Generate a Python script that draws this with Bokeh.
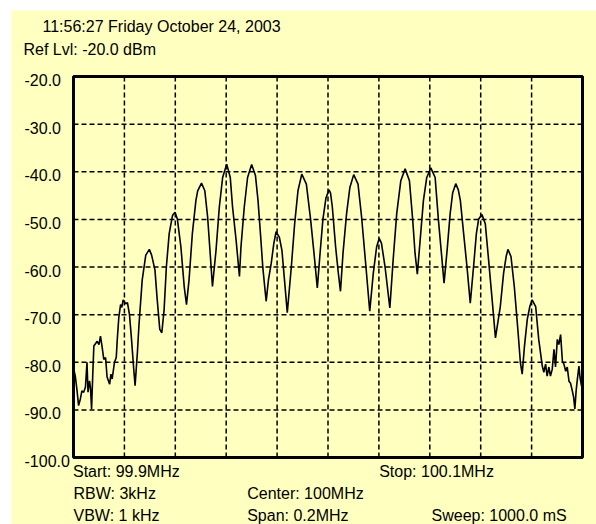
from bokeh.plotting import figure
from bokeh.models import Range1d
from bokeh.embed import file_html
from bokeh.resources import INLINE
from bokeh.core.properties import value

# ---------------- data ----------------
CENTER_MHZ = 100.0
START_MHZ = 99.9
STOP_MHZ = 100.1
REF_LEVEL = -20.0
BOTTOM_LEVEL = -100.0

y_ticks = [-20, -30, -40, -50, -60, -70, -80, -90, -100]
y_tick_labels = ["-20.0", "-30.0", "-40.0", "-50.0", "-60.0", "-70.0", "-80.0", "-90.0", "-100.0"]
x_grid_mhz = [99.92, 99.94, 99.96, 99.98, 100.0, 100.02, 100.04, 100.06, 100.08]

# trace: frequency offset from centre (kHz) and level (dBm)
offset_khz = [
    -100.0, -99.7, -99.3, -98.6, -98.0, -97.3, -96.7, -96.0, -95.3, -94.7,
    -94.3, -93.7, -93.3, -92.9, -92.4, -92.0, -90.7, -90.0, -89.4, -88.8,
    -88.1, -87.4, -86.8, -85.8, -85.3, -84.8, -83.9, -83.2, -82.8, -82.2,
    -81.5, -81.0, -80.5, -79.5, -78.8, -78.0, -77.2, -76.4, -75.8,
    -74.9, -74.3, -73.0, -71.6, -70.2, -69.3, -68.0, -67.1, -66.1, -65.3,
    -64.4, -63.5, -62.4, -61.1, -60.1, -59.2, -57.8, -56.5, -55.6,
    -54.6, -53.3, -51.9, -51.2, -49.7, -48.4, -47.3, -46.3, -45.4,
    -44.0, -42.7, -41.4, -39.8, -38.4, -37.5, -36.1, -34.8,
    -34.2, -32.9, -31.6, -30.0, -28.5, -27.5, -26.5, -25.6, -24.3,
    -23.4, -22.3, -21.3, -20.4, -19.1, -18.1, -17.1, -16.0,
    -14.4, -13.1, -11.8, -10.3, -8.5, -6.8, -5.5, -4.2,
    -3.1, -2.0, -0.8, 0.4, 1.0, 1.7, 3.0, 4.0, 4.9,
    5.9, 7.3, 8.6, 10.1, 11.8, 13.2, 14.9, 16.4,
    17.8, 19.1, 20.1, 21.0, 22.4, 24.3,
    25.6, 27.0, 28.6, 30.3, 32.0, 33.3, 34.2, 35.1,
    36.2, 37.5, 38.8, 40.4, 42.1, 43.4, 44.7, 45.6,
    46.8, 48.0, 49.0, 50.2, 51.2, 52.0, 53.3, 54.6, 55.9,
    57.2, 58.3, 59.2, 60.5, 61.8, 63.1, 64.5, 65.8,
    67.7, 69.0, 70.0, 70.7, 71.9, 73.2, 74.7, 75.6, 76.3,
    77.2, 78.3, 79.3, 80.2, 81.6, 82.8, 84.2, 84.8,
    85.5, 86.1, 86.8, 87.4, 88.1, 88.8, 89.4, 90.1, 90.7, 91.4,
    92.1, 92.7, 93.4, 94.0, 94.7, 95.3, 96.0, 96.5, 97.0, 97.5,
    98.0, 98.6, 99.0, 99.6, 100.0,
]
level_db = [
    -84.2, -81.9, -82.9, -86.0, -89.1, -87.7, -86.0, -86.3, -85.2, -80.0,
    -86.3, -83.9, -85.6, -89.8, -82.1, -76.6, -75.6, -76.3, -74.5, -76.6,
    -79.4, -79.0, -83.1, -84.6, -82.5, -83.5, -80.0, -79.0, -75.2, -70.6,
    -67.9, -68.5, -66.9, -67.7, -67.5, -70.0, -75.2, -81.0, -84.9,
    -78.0, -72.4, -62.7, -57.5, -56.3, -57.5, -60.6, -66.9, -73.1, -73.8,
    -69.0, -59.9, -53.0, -49.2, -48.5, -49.9, -55.8, -64.1, -67.9,
    -62.7, -53.0, -46.0, -44.0, -42.4, -44.0, -49.5, -57.1, -64.1,
    -56.5, -47.4, -41.2, -38.4, -41.2, -47.4, -54.4, -62.0,
    -55.8, -47.4, -41.2, -38.5, -40.8, -46.0, -53.3, -60.2, -67.2,
    -62.7, -59.2, -55.1, -52.6, -53.8, -56.5, -62.7, -69.6,
    -59.9, -50.9, -44.0, -40.5, -42.6, -50.2, -57.1, -64.4,
    -57.0, -50.0, -45.5, -43.8, -44.5, -47.4, -55.8, -61.0, -65.1,
    -57.1, -48.8, -43.3, -40.6, -42.6, -49.5, -59.9, -69.3,
    -61.3, -55.8, -54.0, -55.0, -59.9, -68.6,
    -58.5, -48.8, -41.9, -39.4, -41.9, -50.2, -57.1, -61.5,
    -54.4, -46.0, -41.2, -39.2, -41.2, -50.2, -57.9, -63.4,
    -56.5, -48.8, -44.4, -42.5, -43.8, -46.0, -53.0, -59.9, -67.6,
    -59.9, -53.0, -49.9, -49.0, -50.9, -58.5, -66.9, -74.9,
    -68.3, -61.3, -57.8, -56.3, -57.8, -64.1, -73.8, -80.1, -82.5,
    -76.6, -71.0, -68.3, -66.9, -68.3, -75.2, -80.8, -82.1,
    -80.4, -82.9, -81.0, -82.9, -81.5, -77.3, -81.0, -75.2, -76.3, -74.2,
    -79.8, -80.4, -81.9, -81.0, -84.0, -84.4, -86.0, -87.3, -89.8, -86.0,
    -83.5, -80.8, -83.1, -84.9, -85.6,
]
assert len(offset_khz) == len(level_db)

header_texts = ["11:56:27 Friday October 24, 2003", "Ref Lvl: -20.0 dBm"]
footer_texts = ["Start: 99.9MHz", "Stop: 100.1MHz",
                "RBW: 3kHz", "Center: 100MHz",
                "VBW: 1 kHz", "Span: 0.2MHz", "Sweep: 1000.0 mS"]

# ---------------- layout / style (page pixels) ----------------
BG = "#FFFFC0"
FONT = "Liberation Sans"
FSIZE = "16px"
PAGE_W, PAGE_H = 596, 524
OFF_X, OFF_Y = 11, 10                     # white margin around the yellow panel
BOX_L, BOX_R, BOX_T, BOX_B = 73, 582, 76, 457   # chart box in page pixels

x_per_px = (STOP_MHZ - START_MHZ) / (BOX_R - BOX_L)
y_per_px = (REF_LEVEL - BOTTOM_LEVEL) / (BOX_B - BOX_T)


def fx(px):
    return START_MHZ + (px - BOX_L) * x_per_px


def fy(py):
    return REF_LEVEL - (py - BOX_T) * y_per_px


x_range = Range1d(fx(OFF_X), fx(PAGE_W))
y_range = Range1d(fy(PAGE_H), fy(OFF_Y))

freq_mhz = [CENTER_MHZ + k / 1000.0 for k in offset_khz]

p = figure(
    width=PAGE_W - OFF_X, height=PAGE_H - OFF_Y,
    x_range=x_range, y_range=y_range,
    x_axis_type=None, y_axis_type=None,
    toolbar_location=None, output_backend="svg",
    min_border=0, min_border_left=0, min_border_right=0, min_border_top=0, min_border_bottom=0,
    background_fill_color=BG, border_fill_color=BG,
    outline_line_color=None,
)
p.margin = (OFF_Y, 0, 0, OFF_X)

# dashed grid inside the chart box
grid_style = dict(line_color="black", line_dash="5 3", line_width=1.5)
inner_levels = y_ticks[1:-1]
p.segment(x0=x_grid_mhz, x1=x_grid_mhz,
          y0=[BOTTOM_LEVEL] * len(x_grid_mhz), y1=[REF_LEVEL] * len(x_grid_mhz), **grid_style)
p.segment(x0=[START_MHZ] * len(inner_levels), x1=[STOP_MHZ] * len(inner_levels),
          y0=inner_levels, y1=inner_levels, **grid_style)

# chart box
p.quad(left=[START_MHZ], right=[STOP_MHZ], bottom=[BOTTOM_LEVEL], top=[REF_LEVEL],
       fill_color=None, line_color="black", line_width=3)

# trace
p.line(freq_mhz, level_db, line_color="black", line_width=1.6)

text_style = dict(text_align="left", text_baseline="middle", text_color="black",
                  text_font=value(FONT), text_font_size=value(FSIZE))

# y tick labels, left aligned just below each grid level
p.text(x=[fx(24)] * len(y_ticks), y=y_ticks, text=y_tick_labels, y_offset=3.5, **text_style)

# header and footer texts
hx = [fx(42), fx(23)]
hy = [fy(26), fy(49)]
p.text(x=hx, y=hy, text=header_texts, **text_style)

fxs = [fx(72.5), fx(378.7), fx(73), fx(246.7), fx(73), fx(246.7), fx(431)]
fys = [fy(470.5), fy(470.5), fy(493), fy(493), fy(515), fy(515), fy(515)]
p.text(x=fxs, y=fys, text=footer_texts, **text_style)

open("out.html", "w").write(file_html(p, INLINE))
